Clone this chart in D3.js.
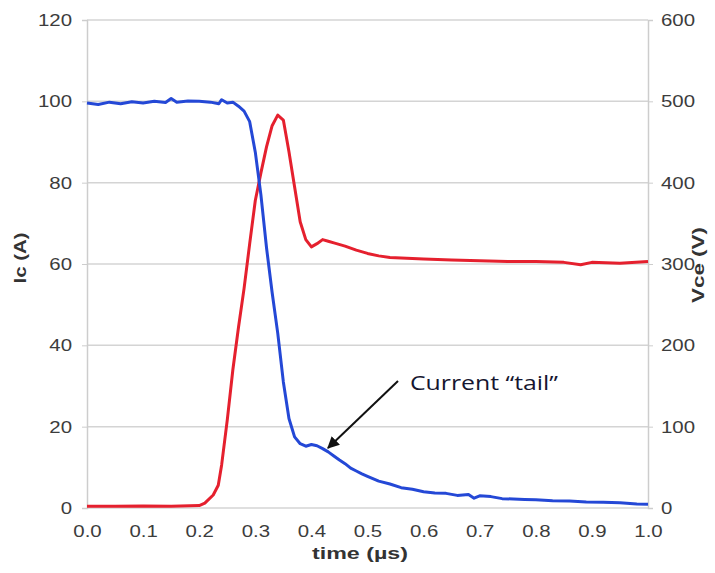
<!DOCTYPE html>
<html>
<head>
<meta charset="utf-8">
<script src="https://cdn.jsdelivr.net/npm/d3@7"></script>
<style>
  body { margin: 0; background: #fff; }
  .tick text { font-family: "Liberation Sans", Arial, sans-serif; font-size: 17px; fill: #3c3c3c; }
  .axis-title { font-family: "Liberation Sans", Arial, sans-serif; font-weight: bold; fill: #333; }
</style>
</head>
<body>
<div id="chart"></div>
<script>
var svgWidth = 715;
var svgHeight = 573;

var margin = { top: 20, right: 67, bottom: 65, left: 87 };
var width = svgWidth - margin.left - margin.right;
var height = svgHeight - margin.top - margin.bottom;

// time in microseconds
var icTime = [0.00, 0.02, 0.04, 0.06, 0.08, 0.10, 0.12, 0.14, 0.15, 0.16, 0.18, 0.20, 0.22, 0.235, 0.24, 0.25,
  0.26, 0.27, 0.28, 0.29, 0.30, 0.31, 0.32, 0.33, 0.34, 0.35, 0.36, 0.37, 0.38, 0.39, 0.40, 0.41, 0.42,
  0.43, 0.44, 0.45, 0.46, 0.47, 0.48, 0.49, 0.50, 0.52, 0.54, 0.56, 0.58, 0.60, 0.62, 0.64, 0.66, 0.68,
  0.69, 0.70, 0.72, 0.74, 0.76, 0.78, 0.80, 0.83, 0.86, 0.89, 0.92, 0.95, 0.98, 1.00];
// collector current Ic (A)
var icValues = [99.6, 99.2, 99.8, 99.4, 99.9, 99.6, 100.0, 99.7, 100.7, 99.8, 100.1, 100.0, 99.8, 99.4, 100.4, 99.6,
  99.8, 98.8, 97.6, 95.0, 87.5, 77.0, 64.0, 53.0, 43.0, 31.0, 22.0, 17.5, 15.8, 15.2, 15.6, 15.3, 14.6,
  13.8, 12.8, 11.8, 10.9, 9.8, 9.1, 8.4, 7.8, 6.6, 5.9, 5.0, 4.6, 4.0, 3.7, 3.6, 3.1, 3.3,
  2.4, 3.0, 2.8, 2.3, 2.2, 2.1, 2.0, 1.8, 1.7, 1.5, 1.4, 1.3, 1.0, 0.9];

var vceTime = [0.00, 0.05, 0.10, 0.15, 0.20, 0.21, 0.225, 0.234, 0.24, 0.25, 0.26, 0.27, 0.28, 0.29, 0.30,
  0.31, 0.32, 0.33, 0.34, 0.35, 0.36, 0.37, 0.38, 0.39, 0.40, 0.41, 0.42, 0.43, 0.44, 0.46, 0.48, 0.50,
  0.52, 0.54, 0.57, 0.60, 0.65, 0.70, 0.75, 0.80, 0.85, 0.88, 0.90, 0.95, 1.00];
// collector-emitter voltage Vce (V)
var vceValues = [2, 2, 2.5, 2, 3, 6, 16, 28, 53, 108, 170, 222, 270, 325, 378,
  412, 444, 470, 483, 477, 438, 395, 352, 330, 321, 325, 330, 328, 326, 322, 317, 313,
  310, 308, 307, 306, 305, 304, 303, 303, 302, 299, 302, 301, 303];

var timeTicks = [0, 0.1, 0.2, 0.3, 0.4, 0.5, 0.6, 0.7, 0.8, 0.9, 1.0];
var icTicks = [0, 20, 40, 60, 80, 100, 120];
var vceTicks = [0, 100, 200, 300, 400, 500, 600];

var svg = d3.select("#chart")
  .append("svg")
  .attr("width", svgWidth)
  .attr("height", svgHeight);

var chartGroup = svg.append("g")
  .attr("transform", `translate(${margin.left}, ${margin.top})`);

var xScale = d3.scaleLinear().domain([0, 1]).range([0, width]);
var yLeft = d3.scaleLinear().domain([0, 120]).range([height, 0]);
var yRight = d3.scaleLinear().domain([0, 600]).range([height, 0]);

// gridlines
chartGroup.append("g")
  .selectAll("line")
  .data(icTicks)
  .enter()
  .append("line")
  .attr("x1", 0)
  .attr("x2", width)
  .attr("y1", d => yLeft(d))
  .attr("y2", d => yLeft(d))
  .attr("stroke", "#d4d4d4")
  .attr("stroke-width", 1.5);

// stretch tick labels a bit, the original text is wide
function widen(sel, k) {
  sel.each(function() {
    var len = this.getComputedTextLength();
    d3.select(this).attr("textLength", len * k).attr("lengthAdjust", "spacingAndGlyphs");
  });
}

var bottomAxis = d3.axisBottom(xScale).tickValues(timeTicks).tickFormat(d3.format(".1f")).tickSize(0).tickPadding(17);
var leftAxis = d3.axisLeft(yLeft).tickValues(icTicks).tickSize(5).tickPadding(10);
var rightAxis = d3.axisRight(yRight).tickValues(vceTicks).tickSize(5).tickPadding(8);

var xAxis = chartGroup.append("g")
  .attr("transform", `translate(0, ${height})`)
  .call(bottomAxis);

var yAxisL = chartGroup.append("g").call(leftAxis);

var yAxisR = chartGroup.append("g")
  .attr("transform", `translate(${width}, 0)`)
  .call(rightAxis);

[xAxis, yAxisL, yAxisR].forEach(function(ax) {
  ax.select(".domain").attr("stroke", "#cdcdcd").attr("stroke-width", 1.5);
  ax.selectAll(".tick line").attr("stroke", "#cdcdcd");
  widen(ax.selectAll(".tick text"), 1.2);
});
xAxis.select(".domain").attr("stroke", "none");

// lines
var icLine = d3.line()
  .x((d, i) => xScale(icTime[i]))
  .y(d => yLeft(d));

var vceLine = d3.line()
  .x((d, i) => xScale(vceTime[i]))
  .y(d => yRight(d));

chartGroup.append("path")
  .datum(vceValues)
  .attr("d", vceLine)
  .attr("fill", "none")
  .attr("stroke", "#e5202e")
  .attr("stroke-width", 3)
  .attr("stroke-linejoin", "round");

chartGroup.append("path")
  .datum(icValues)
  .attr("d", icLine)
  .attr("fill", "none")
  .attr("stroke", "#2448d6")
  .attr("stroke-width", 3)
  .attr("stroke-linejoin", "round");

// axis titles
svg.append("text")
  .attr("class", "axis-title")
  .attr("x", 360)
  .attr("y", 559)
  .attr("text-anchor", "middle")
  .attr("font-size", "17px")
  .attr("textLength", 96)
  .attr("lengthAdjust", "spacingAndGlyphs")
  .text("time (µs)");

svg.append("text")
  .attr("class", "axis-title")
  .attr("transform", "translate(26, 258) rotate(-90)")
  .attr("text-anchor", "middle")
  .attr("font-size", "16px")
  .attr("textLength", 51)
  .attr("lengthAdjust", "spacingAndGlyphs")
  .text("Ic (A)");

svg.append("text")
  .attr("class", "axis-title")
  .attr("transform", "translate(704, 265) rotate(-90)")
  .attr("text-anchor", "middle")
  .attr("font-size", "16px")
  .attr("textLength", 76)
  .attr("lengthAdjust", "spacingAndGlyphs")
  .text("Vce (V)");

// annotation
svg.append("defs").append("marker")
  .attr("id", "arrow")
  .attr("viewBox", "0 0 10 10")
  .attr("refX", 9)
  .attr("refY", 5)
  .attr("markerWidth", 6)
  .attr("markerHeight", 6)
  .attr("orient", "auto")
  .append("path")
  .attr("d", "M0,0 L10,5 L0,10 z")
  .attr("fill", "#111");

svg.append("line")
  .attr("x1", 398)
  .attr("y1", 381)
  .attr("x2", 328)
  .attr("y2", 448)
  .attr("stroke", "#111")
  .attr("stroke-width", 2)
  .attr("marker-end", "url(#arrow)");

svg.append("text")
  .attr("x", 410)
  .attr("y", 390)
  .attr("font-family", "'Open Sans', sans-serif")
  .attr("font-size", "20px")
  .attr("fill", "#161630")
  .attr("textLength", 148)
  .attr("lengthAdjust", "spacingAndGlyphs")
  .text("Current “tail”");
</script>
</body>
</html>
